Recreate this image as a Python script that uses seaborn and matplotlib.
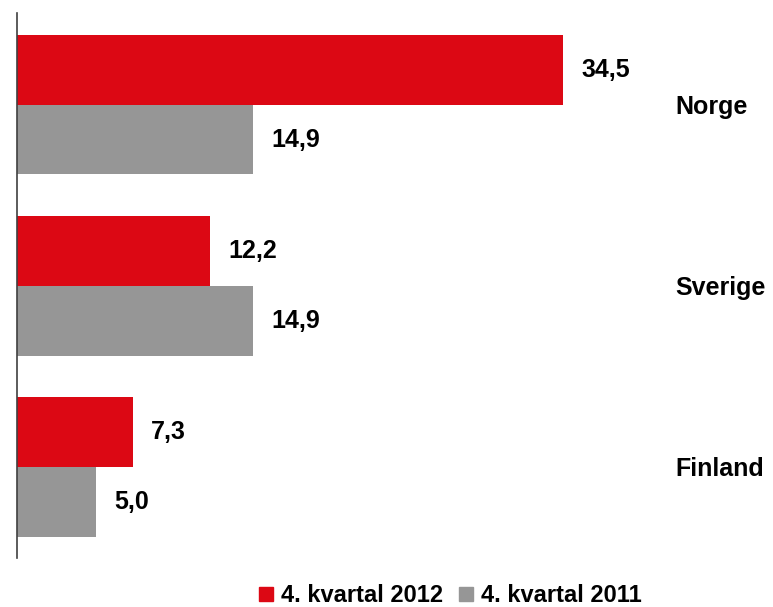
import numpy as np
import pandas as pd
import matplotlib
matplotlib.use("Agg")
import matplotlib.pyplot as plt
from matplotlib.lines import Line2D
import seaborn as sns

# data ---------------------------------------------------------------
countries = ['Norge', 'Sverige', 'Finland']
periods = ['4. kvartal 2012', '4. kvartal 2011']
q4_2012 = [34.5, 12.2, 7.3]
q4_2011 = [14.9, 14.9, 5.0]
colors = ['#DC0814', '#969696']

df = pd.DataFrame({
    'land': countries * 2,
    'periode': [periods[0]] * 3 + [periods[1]] * 3,
    'verdi': q4_2012 + q4_2011,
})

sns.set_style('white')
plt.rcParams['font.family'] = ['Liberation Sans', 'DejaVu Sans']

fig = plt.figure(figsize=(7.73, 6.07), dpi=100)
ax = fig.add_axes([17 / 773, 49 / 607, (660 - 17) / 773, 545 / 607])

sns.barplot(data=df, y='land', x='verdi', hue='periode', order=countries,
            hue_order=periods, palette=colors, orient='h', width=0.77,
            saturation=1, errorbar=None, legend=False, linewidth=0, ax=ax)

# value labels, comma decimal
for cont in ax.containers:
    ax.bar_label(cont, labels=[f'{b.get_width():.1f}'.replace('.', ',') for b in cont],
                 padding=13, fontsize=18, fontweight='bold', color='black')

ax.set_xlim(0, (660 - 17) / 15.83)
ax.set_ylim(2.503, -0.506)
ax.set_xlabel('')
ax.set_ylabel('')
ax.set_xticks([])
ax.yaxis.tick_right()
ax.tick_params(axis='y', length=0, pad=11, labelsize=18, labelcolor='black')
for lab in ax.get_yticklabels():
    lab.set_fontweight('bold')
    lab.set_horizontalalignment('left')

for s in ['top', 'right', 'bottom']:
    ax.spines[s].set_visible(False)
ax.spines['left'].set_color('#404040')
ax.spines['left'].set_linewidth(1.2)

handles = [Line2D([], [], marker='s', linestyle='', markersize=9.5,
                  markerfacecolor=c, markeredgecolor=c) for c in colors]
fig.legend(handles, periods, loc='center', bbox_to_anchor=(0.582, 0.019),
           ncol=2, frameon=False, prop={'size': 17, 'weight': 'bold'},
           handlelength=0.7, handletextpad=0.3, columnspacing=0.6,
           borderaxespad=0, borderpad=0, labelcolor='black')

fig.savefig('out.png', dpi=100)
